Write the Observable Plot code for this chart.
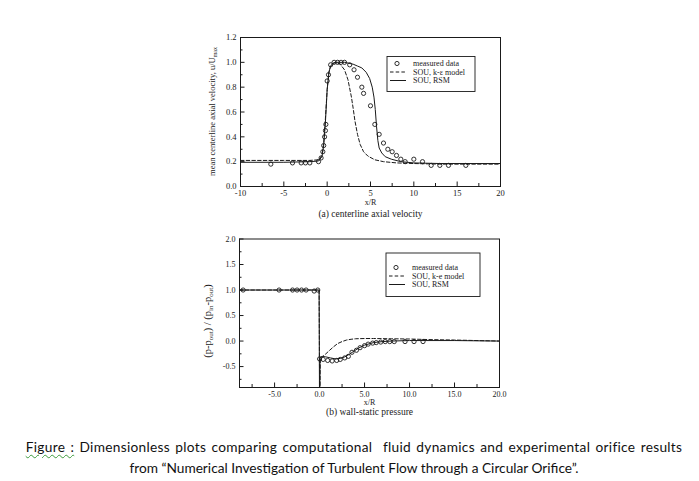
<!DOCTYPE html>
<html><head><meta charset="utf-8">
<script src="https://cdn.jsdelivr.net/npm/d3@7"></script>
<script src="https://cdn.jsdelivr.net/npm/@observablehq/plot@0.6"></script>
<style>
html,body{margin:0;padding:0;background:#fff;}
body{width:699px;height:481px;position:relative;overflow:hidden;}
#a{position:absolute;left:0;top:0;}
#b{position:absolute;left:0;top:225px;}
#cap{position:absolute;left:0;top:436px;width:708px;text-align:center;font-family:Lato,"Open Sans",sans-serif;font-size:13.7px;line-height:21px;color:#111;}
#cap .l1{letter-spacing:0.3px;word-spacing:1.5px;}
#cap .sp{text-decoration:underline wavy #3c9a3c;text-decoration-thickness:1px;text-underline-offset:2px;}
</style></head><body>
<div id="a"></div><div id="b"></div>
<div id="cap"><span class="l1"><span class="sp">Figure :</span> Dimensionless plots comparing computational&nbsp; fluid dynamics and experimental orifice results</span><br>from “Numerical Investigation of Turbulent Flow through a Circular Orifice”.</div>
<script>
// ---------- (a) centerline axial velocity ----------
const aMeasX = [-6.5,-4,-3,-2.5,-2,-1,-0.7,-0.5,-0.4,-0.3,-0.2,-0.15,0,0.15,0.4,0.8,1.2,1.6,2.0,2.6,3.1,3.5,4.0,4.2,5.0,5.5,6.0,6.5,7.0,7.5,8.0,8.5,9.0,10,11,12,13,14,16];
const aMeasY = [0.18,0.19,0.19,0.19,0.19,0.20,0.23,0.28,0.33,0.40,0.45,0.50,0.85,0.90,0.98,1.0,1.0,1.0,1.0,0.98,0.94,0.88,0.80,0.75,0.65,0.50,0.42,0.35,0.30,0.28,0.25,0.22,0.20,0.22,0.20,0.17,0.17,0.17,0.17];
const aKeX = [-10,-5,-2,-1,-0.6,-0.4,-0.2,0,0.2,0.4,0.7,1.0,1.5,2.0,2.4,2.8,3.0,3.2,3.5,3.8,4.2,4.7,5.5,6.5,8,10,13,20];
const aKeY = [0.21,0.21,0.21,0.215,0.25,0.35,0.55,0.78,0.92,0.97,0.99,1.0,0.985,0.94,0.86,0.72,0.63,0.53,0.42,0.34,0.28,0.245,0.215,0.20,0.19,0.185,0.18,0.18];
const aRsmX = [-10,-5,-2,-1,-0.6,-0.4,-0.2,0,0.2,0.4,0.7,1.0,2.0,3.0,3.5,4.0,4.5,4.9,5.2,5.4,5.55,5.7,5.85,6.0,6.3,6.7,7.4,8.5,10,13,20];
const aRsmY = [0.195,0.195,0.2,0.205,0.24,0.33,0.52,0.78,0.92,0.97,0.995,1.0,1.0,0.985,0.97,0.955,0.92,0.87,0.80,0.72,0.62,0.48,0.37,0.31,0.27,0.24,0.22,0.20,0.19,0.185,0.185];
const aXTicks = [-10,-5,0,5,10,15,20];
const aXMinor = [-7.5,-2.5,2.5,7.5,12.5,17.5];
const aYTicks = [0,0.2,0.4,0.6,0.8,1.0,1.2];
const aYMinor = [0.1,0.3,0.5,0.7,0.9,1.1];

// ---------- (b) wall-static pressure ----------
const bMeasX = [-8.5,-4.5,-3.0,-2.5,-2.0,-1.5,-0.6,-0.2,0.0,0.4,0.9,1.4,1.9,2.3,2.8,3.2,3.6,4.1,4.5,5.0,5.4,5.9,6.3,6.8,7.3,7.8,8.3,9.5,10.5,11.5];
const bMeasY = [1.0,1.0,1.0,1.0,1.0,1.0,0.98,1.0,-0.35,-0.36,-0.38,-0.39,-0.38,-0.36,-0.33,-0.30,-0.22,-0.18,-0.13,-0.09,-0.06,-0.04,-0.03,-0.02,-0.01,-0.01,-0.01,-0.01,-0.01,-0.01];
const bKeX = [-8.9,-0.05,0.02,0.08,0.3,0.7,1.0,1.5,2.0,2.5,3.0,3.5,4.0,5.0,6.0,8.0,10,12,15,20];
const bKeY = [1.0,1.0,-1.5,-0.32,-0.31,-0.25,-0.20,-0.12,-0.05,-0.01,0.02,0.035,0.045,0.05,0.05,0.045,0.04,0.03,0.02,0.0];
const bRsmX = [-8.9,-0.05,0.0,0.05,0.3,0.7,1.2,1.8,2.3,2.8,3.3,3.8,4.3,5.0,6.0,7.0,8.0,10,15,20];
const bRsmY = [1.0,1.0,-1.5,-0.32,-0.30,-0.31,-0.33,-0.35,-0.34,-0.31,-0.26,-0.20,-0.14,-0.08,-0.03,-0.01,0.0,0.01,0.01,0.0];
const bXTicks = [-5,0,5,10,15,20];
const bXMinor = [-7.5,-2.5,2.5,7.5,12.5,17.5];
const bYTicks = [-0.5,0,0.5,1.0,1.5,2.0];
const bYMinor = [-0.75,-0.25,0.25,0.75,1.25,1.75];

const INK = "#1a1a1a";
const SERIF = "'Liberation Serif','DejaVu Serif',serif";
const pts = (xs, ys) => xs.map((x, i) => ({x, y: ys[i]}));

function chart({height, mt, mb, ml, mr, xd, yd, meas, ke, rsm, xt, xm, yt, ym, xfmt, yfmt, sub, subDy, xrDy, tickFont}) {
  const fw = 699 - ml - mr, fh = height - mt - mb;
  return Plot.plot({
    width: 699, height,
    marginLeft: ml, marginRight: mr, marginTop: mt, marginBottom: mb,
    style: {fontFamily: SERIF, fontSize: tickFont, color: INK, background: "transparent", overflow: "visible"},
    x: {domain: xd},
    y: {domain: yd},
    marks: [
      Plot.tickY(yt, {y: d => d, insetRight: fw - 4.5, stroke: INK}),
      Plot.tickY(ym, {y: d => d, insetRight: fw - 2.5, stroke: INK}),
      Plot.tickX(xt, {x: d => d, insetTop: fh - 4.5, stroke: INK}),
      Plot.tickX(xm, {x: d => d, insetTop: fh - 3, stroke: INK}),
      Plot.axisX({ticks: xt, tickSize: 0, tickPadding: 3.5, tickFormat: xfmt, label: null}),
      Plot.axisY({ticks: yt, tickSize: 0, tickPadding: 4, tickFormat: yfmt, label: null}),
      Plot.line(pts(ke.x, ke.y), {x: "x", y: "y", stroke: INK, strokeWidth: 1, strokeDasharray: "3.5,2.2", clip: true}),
      Plot.line(pts(rsm.x, rsm.y), {x: "x", y: "y", stroke: INK, strokeWidth: 1, clip: true}),
      Plot.dot(pts(meas.x, meas.y), {x: "x", y: "y", r: 2.1, stroke: INK, strokeWidth: 0.9, fill: "none"}),
      Plot.frame({stroke: INK, strokeWidth: 1}),
      Plot.text(["x/R"], {frameAnchor: "bottom", dy: xrDy, fontSize: 8, fill: INK}),
      Plot.text([sub], {frameAnchor: "bottom", dy: subDy, fontSize: 9.5, fill: INK})
    ]
  });
}

function legend(svg, x0, y0, w, h, rows, labels) {
  const g = d3.select(svg).append("g").attr("font-family", SERIF).attr("font-size", 8).attr("fill", INK).attr("text-anchor", "start");
  g.append("rect").attr("x", x0).attr("y", y0).attr("width", w).attr("height", h)
    .attr("fill", "white").attr("stroke", INK).attr("stroke-width", 0.9);
  g.append("circle").attr("cx", x0 + 10).attr("cy", rows[0]).attr("r", 2.1).attr("fill", "none").attr("stroke", INK).attr("stroke-width", 0.9);
  g.append("line").attr("x1", x0 + 3).attr("x2", x0 + 19).attr("y1", rows[1]).attr("y2", rows[1]).attr("stroke", INK).attr("stroke-dasharray", "3.5,2.2");
  g.append("line").attr("x1", x0 + 3).attr("x2", x0 + 19).attr("y1", rows[2]).attr("y2", rows[2]).attr("stroke", INK);
  labels.forEach((t, i) => g.append("text").attr("x", x0 + 26).attr("y", rows[i]).attr("dy", "0.35em").attr("text-anchor", "start").text(t));
}

function ylabel(svg, x, y, parts, size, subSize) {
  const t = d3.select(svg).append("text").attr("transform", `translate(${x},${y}) rotate(-90)`)
    .attr("text-anchor", "middle").attr("font-family", SERIF).attr("font-size", size).attr("fill", INK);
  let shifted = false;
  parts.forEach(([s, isSub]) => {
    const ts = t.append("tspan").text(s);
    if (isSub) { ts.attr("font-size", subSize); if (!shifted) { ts.attr("dy", 2); shifted = true; } }
    else if (shifted) { ts.attr("dy", -2); shifted = false; }
  });
}

// chart (a)
const A = chart({
  height: 225, mt: 37, mb: 39, ml: 240, mr: 199,
  xd: [-10, 20], yd: [0, 1.2],
  meas: {x: aMeasX, y: aMeasY}, ke: {x: aKeX, y: aKeY}, rsm: {x: aRsmX, y: aRsmY},
  xt: aXTicks, xm: aXMinor, yt: aYTicks, ym: aYMinor,
  xfmt: d => String(d), yfmt: d => d.toFixed(1), tickFont: "8.5px",
  sub: "(a) centerline axial velocity", xrDy: 18.5, subDy: 30
});
legend(A, 387, 56.5, 88, 35, [63.5, 72, 80.5], ["measured data", "SOU, k-ε model", "SOU, RSM"]);
ylabel(A, 215, 111.5, [["mean centerline axial velocity, u/U", false], ["max", true]], 8.5, 6);
document.getElementById("a").appendChild(A);

// chart (b)
const B = chart({
  height: 205, mt: 13.5, mb: 43, ml: 239, mr: 200,
  xd: [-8.9, 20], yd: [-0.91, 2.0],
  meas: {x: bMeasX, y: bMeasY}, ke: {x: bKeX, y: bKeY}, rsm: {x: bRsmX, y: bRsmY},
  xt: bXTicks, xm: bXMinor, yt: bYTicks, ym: bYMinor,
  xfmt: d => d.toFixed(1), yfmt: d => d.toFixed(1), tickFont: "8px",
  sub: "(b) wall-static pressure", xrDy: 17.5, subDy: 27.5
});
legend(B, 386, 28, 94, 43.5, [42.5, 51, 59.5], ["measured data", "SOU, k-e model", "SOU, RSM"]);
ylabel(B, 211, 96, [["(p-p", false], ["out", true], [") / (p", false], ["in", true], ["-p", false], ["out", true], [")", false]], 10.5, 7);
document.getElementById("b").appendChild(B);
</script>
</body></html>
